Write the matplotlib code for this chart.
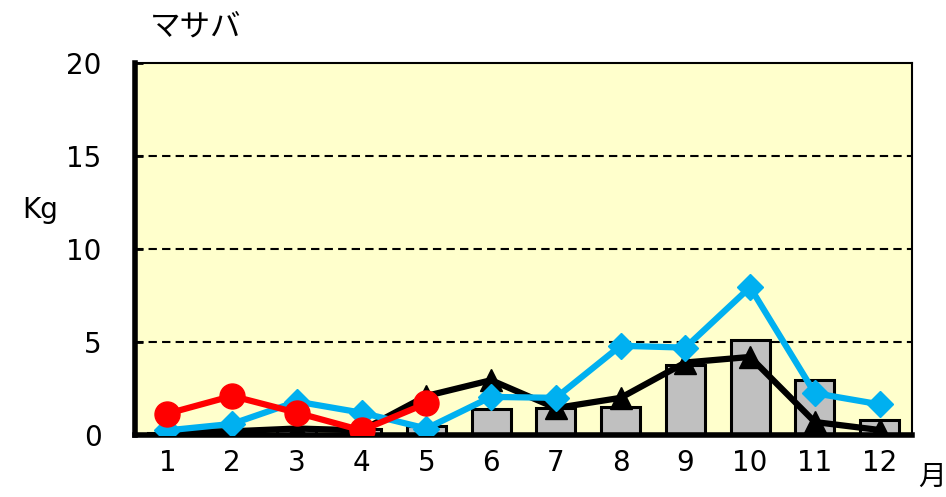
import numpy as np
import matplotlib
matplotlib.use('Agg')
import matplotlib.pyplot as plt

plt.rcParams['font.family'] = ['DejaVu Sans', 'Noto Sans CJK JP']

# monthly catch (Kg) of マサバ
months = ['1', '2', '3', '4', '5', '6', '7', '8', '9', '10', '11', '12']
bars_avg = [0.1, 0.1, 0.3, 0.3, 0.5, 1.4, 1.45, 1.5, 3.75, 5.1, 2.95, 0.8]
black_tri = [0.2, 0.2, 0.35, 0.25, 2.1, 2.95, 1.45, 2.0, 3.9, 4.2, 0.7, 0.27]
blue_dia = [0.25, 0.6, 1.8, 1.2, 0.35, 2.05, 2.0, 4.8, 4.7, 7.95, 2.25, 1.65]
red_circ = [1.15, 2.1, 1.2, 0.25, 1.7]

fig = plt.figure(figsize=(9.46, 4.97), dpi=100)
ax = fig.add_axes([0.1427, 0.1247, 0.8213, 0.7483])
ax.set_facecolor('#FFFFCC')

x = np.arange(len(months))
ax.bar(x, bars_avg, width=0.6, color='#C0C0C0', edgecolor='black', linewidth=2.2, zorder=2)
ax.plot(x, black_tri, color='black', lw=4.5, marker='^', ms=16, zorder=3)
ax.plot(x, blue_dia, color='#00B0F0', lw=4.5, marker='D', ms=13, zorder=4)
ax.plot(x[:len(red_circ)], red_circ, color='#FF0000', lw=4.5, marker='o', ms=18, zorder=5)

ax.set_xlim(-0.5, 11.5)
ax.set_ylim(0, 20)
ax.set_yticks([0, 5, 10, 15, 20])
ax.set_xticks(x)
ax.set_xticklabels(months)
for yv in [5, 10, 15]:
    ax.axhline(yv, color='black', lw=1.5, ls=(0, (4, 2.5)), zorder=1)

for s in ['left', 'bottom']:
    ax.spines[s].set_linewidth(4)
for s in ['top', 'right']:
    ax.spines[s].set_linewidth(1.5)
ax.tick_params(axis='y', direction='in', length=6, width=2, labelsize=20, pad=24)
ax.tick_params(axis='x', length=0, labelsize=20, pad=10)

fig.text(0.042, 0.578, 'Kg', fontsize=20, ha='center', va='center')
fig.text(0.985, 0.04, '月', fontsize=20, ha='center', va='center', family=['Noto Sans CJK JP'])
fig.text(0.207, 0.945, 'マサバ', fontsize=22, ha='center', va='center', family=['Noto Sans CJK JP'])

fig.savefig('out.png', dpi=100)
